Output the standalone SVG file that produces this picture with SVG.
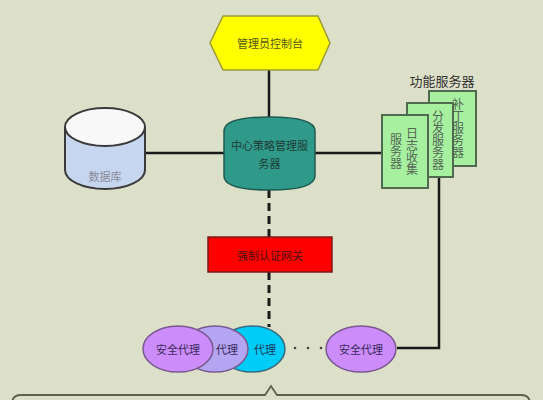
<svg xmlns="http://www.w3.org/2000/svg" width="543" height="400" viewBox="0 0 543 400">
<style>
text{font-family:"Noto Sans CJK SC","Noto Sans",sans-serif;font-size:11px;text-anchor:middle;dominant-baseline:central}
.line{stroke:#1a1a1a;stroke-width:2.5;fill:none}
.dash{stroke:#1a1a1a;stroke-width:3;fill:none;stroke-dasharray:8 5}
.gbox{fill:#a6f0a0;stroke:#4f6a4f;stroke-width:2}
.vt{writing-mode:vertical-rl;font-size:12px;fill:#556655}
.ag{stroke:#7a5a90;stroke-width:1.5}
</style>
<rect width="543" height="400" fill="#dde0c9"/>
<g id="connectors">
<line class="line" x1="269" y1="70" x2="269" y2="117"/>
<line class="line" x1="145" y1="153" x2="224" y2="153"/>
<line class="line" x1="315" y1="153" x2="382" y2="153"/>
<line class="dash" x1="269" y1="190" x2="269" y2="237"/>
<line class="dash" x1="269" y1="272" x2="269" y2="327"/>
<polyline class="line" points="439,177 439,348 397,348"/>
</g>
<g id="admin">
<polygon points="210,43 223,16 318,16 330,43 318,70 223,70" fill="#ffff00" stroke="#9c9a3a" stroke-width="1.5"/>
<text x="270" y="43" fill="#55551a">管理员控制台</text>
</g>
<g id="database">
<path d="M65,127 L65,170 A40,19 0 0 0 145,170 L145,127" fill="#c6d6ee" stroke="#3a3a3a" stroke-width="2"/>
<ellipse cx="105" cy="127" rx="40" ry="19" fill="#f8f8f8" stroke="#3a3a3a" stroke-width="2"/>
<text x="105" y="176" fill="#8a8a9a">数据库</text>
</g>
<g id="center">
<path d="M224,131 Q224,117 269.5,117 Q315,117 315,131 L315,176 Q315,190 269.5,190 Q224,190 224,176 Z" fill="#2f9a8a" stroke="#1f5a50" stroke-width="1.5"/>
<text x="269.5" y="145" fill="#1f3a36">中心策略管理服</text>
<text x="269.5" y="163" fill="#1f3a36">务器</text>
</g>
<g id="servers">
<text x="442" y="80" style="font-size:13px" fill="#333">功能服务器</text>
<rect class="gbox" x="429" y="91" width="47" height="75"/>
<text class="vt" x="458" y="128">补丁服务器</text>
<rect class="gbox" x="407" y="103" width="46" height="74"/>
<text class="vt" x="438" y="140">分发服务器</text>
<rect class="gbox" x="382" y="115" width="46" height="73"/>
<text class="vt" x="412" y="151">日志收集</text>
<text class="vt" x="396" y="151">服务器</text>
</g>
<g id="gateway">
<rect x="208" y="237" width="124" height="35" fill="#ff0000" stroke="#7a1a1a" stroke-width="1.5"/>
<text x="270" y="254.5" fill="#4a1010">强制认证网关</text>
</g>
<g id="agent3">
<ellipse cx="252" cy="349" rx="33" ry="23" fill="#00ccf8" stroke="#3a6a80" stroke-width="1.5"/>
<text x="265" y="349" fill="#1a3a5a">代理</text>
</g>
<g id="agent2">
<ellipse cx="215" cy="349" rx="33" ry="23" fill="#b4a6f2" stroke="#7a5a90" stroke-width="1.5"/>
<text x="227" y="349" fill="#3a2a5a">代理</text>
</g>
<g id="agent1">
<ellipse class="ag" cx="178" cy="349" rx="35" ry="23" fill="#cc8cfa"/>
<text x="178" y="349" fill="#3a2a5a">安全代理</text>
</g>
<g id="dots" fill="#444">
<circle cx="295" cy="348" r="1.3"/>
<circle cx="308" cy="348" r="1.3"/>
<circle cx="321" cy="348" r="1.3"/>
</g>
<g id="agent4">
<ellipse class="ag" cx="361" cy="349" rx="35" ry="23" fill="#cc8cfa"/>
<text x="361" y="349" fill="#3a2a5a">安全代理</text>
</g>
<g id="callout">
<path d="M12,410 L12,404 Q12,395 21,395 L265,395 L271,386 L277,395 L521,395 Q530,395 530,404 L530,410" fill="none" stroke="#5a6450" stroke-width="1.8"/>
</g>
</svg>
